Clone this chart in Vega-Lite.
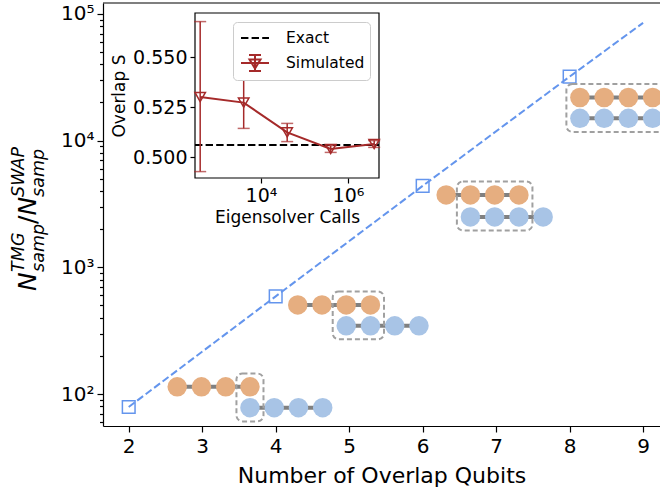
{
  "$schema": "https://vega.github.io/schema/vega-lite/v6.json",
  "width": 557,
  "height": 423,
  "autosize": {"type": "none"},
  "padding": {"left": 103, "top": 3, "right": 0, "bottom": 67},
  "background": "white",
  "config": {
    "font": "DejaVu Sans",
    "view": {"stroke": null},
    "axis": {"grid": false, "domainColor": "black", "tickColor": "black", "labelColor": "black", "titleColor": "black", "domainWidth": 1.2, "tickWidth": 1.2, "titleFontWeight": "normal", "labelFont": "DejaVu Sans", "titleFont": "DejaVu Sans", "labelOverlap": false}
  },
  "datasets": {
    "fit": [
      {"qubits": 2, "ratio": 79}, {"qubits": 4, "ratio": 590}, {"qubits": 6, "ratio": 4390}, {"qubits": 8, "ratio": 32000}, {"qubits": 9, "ratio": 85000}
    ],
    "markers": [
      {"qubits": 2, "ratio": 79}, {"qubits": 4, "ratio": 590}, {"qubits": 6, "ratio": 4390}, {"qubits": 8, "ratio": 32000}
    ],
    "qubits": [
      {"row": "1A", "register": "A", "x": 2.66, "y": 114}, {"row": "1A", "register": "A", "x": 2.99, "y": 114}, {"row": "1A", "register": "A", "x": 3.32, "y": 114}, {"row": "1A", "register": "A", "x": 3.65, "y": 114},
      {"row": "1B", "register": "B", "x": 3.65, "y": 78}, {"row": "1B", "register": "B", "x": 3.98, "y": 78}, {"row": "1B", "register": "B", "x": 4.31, "y": 78}, {"row": "1B", "register": "B", "x": 4.64, "y": 78},
      {"row": "2A", "register": "A", "x": 4.30, "y": 505}, {"row": "2A", "register": "A", "x": 4.63, "y": 505}, {"row": "2A", "register": "A", "x": 4.96, "y": 505}, {"row": "2A", "register": "A", "x": 5.29, "y": 505},
      {"row": "2B", "register": "B", "x": 4.96, "y": 345}, {"row": "2B", "register": "B", "x": 5.29, "y": 345}, {"row": "2B", "register": "B", "x": 5.62, "y": 345}, {"row": "2B", "register": "B", "x": 5.95, "y": 345},
      {"row": "3A", "register": "A", "x": 6.32, "y": 3730}, {"row": "3A", "register": "A", "x": 6.65, "y": 3730}, {"row": "3A", "register": "A", "x": 6.98, "y": 3730}, {"row": "3A", "register": "A", "x": 7.31, "y": 3730},
      {"row": "3B", "register": "B", "x": 6.65, "y": 2500}, {"row": "3B", "register": "B", "x": 6.98, "y": 2500}, {"row": "3B", "register": "B", "x": 7.31, "y": 2500}, {"row": "3B", "register": "B", "x": 7.64, "y": 2500},
      {"row": "4A", "register": "A", "x": 8.14, "y": 21900}, {"row": "4A", "register": "A", "x": 8.47, "y": 21900}, {"row": "4A", "register": "A", "x": 8.80, "y": 21900}, {"row": "4A", "register": "A", "x": 9.13, "y": 21900},
      {"row": "4B", "register": "B", "x": 8.14, "y": 15000}, {"row": "4B", "register": "B", "x": 8.47, "y": 15000}, {"row": "4B", "register": "B", "x": 8.80, "y": 15000}, {"row": "4B", "register": "B", "x": 9.13, "y": 15000}
    ],
    "boxes": [
      {"x0": 3.466, "x1": 3.834, "y0": 60.8, "y1": 145},
      {"x0": 4.776, "x1": 5.474, "y0": 270, "y1": 645},
      {"x0": 6.466, "x1": 7.494, "y0": 1955, "y1": 4764},
      {"x0": 7.956, "x1": 9.314, "y0": 11720, "y1": 28030}
    ],
    "sim": [
      {"calls": 400, "S": 0.530, "lo": 0.4927, "hi": 0.5677},
      {"calls": 4000, "S": 0.5272, "lo": 0.5143, "hi": 0.5398},
      {"calls": 40000, "S": 0.5123, "lo": 0.5077, "hi": 0.5168},
      {"calls": 400000, "S": 0.5040, "lo": 0.5023, "hi": 0.5057},
      {"calls": 4000000, "S": 0.5065, "lo": 0.5048, "hi": 0.5082}
    ]
  },
  "layer": [
    {
      "layer": [
        {
          "data": {"name": "fit"},
          "mark": {"type": "line", "color": "#6495ED", "strokeWidth": 2, "strokeDash": [7.4, 3.2], "clip": true},
          "encoding": {
            "x": {"field": "qubits", "type": "quantitative", "scale": {"domain": [1.65, 9.23], "nice": false, "zero": false},
              "axis": {"values": [2, 3, 4, 5, 6, 7, 8, 9], "format": "d", "labelFontSize": 20, "tickSize": 6, "labelPadding": 4, "title": "Number of Overlap Qubits", "titleFontSize": 22, "titlePadding": 9}},
            "y": {"field": "ratio", "type": "quantitative", "scale": {"type": "log", "domain": [55.9, 122000], "nice": false},
              "axis": {"values": [60, 70, 80, 90, 100, 200, 300, 400, 500, 600, 700, 800, 900, 1000, 2000, 3000, 4000, 5000, 6000, 7000, 8000, 9000, 10000, 20000, 30000, 40000, 50000, 60000, 70000, 80000, 90000, 100000],
                "labelExpr": "datum.value==100?'10²':datum.value==1000?'10³':datum.value==10000?'10⁴':datum.value==100000?'10⁵':''",
                "tickSize": {"condition": {"test": "datum.value==100||datum.value==1000||datum.value==10000||datum.value==100000", "value": 6}, "value": 3.5},
                "labelFontSize": 20, "labelPadding": 3, "title": null}}
          }
        },
        {
          "data": {"name": "markers"},
          "mark": {"type": "point", "shape": "square", "filled": false, "size": 160, "strokeWidth": 1.5, "color": "#6495ED", "opacity": 1},
          "encoding": {"x": {"field": "qubits", "type": "quantitative"}, "y": {"field": "ratio", "type": "quantitative"}}
        },
        {
          "data": {"name": "qubits"},
          "mark": {"type": "line", "color": "#808080", "strokeWidth": 4, "clip": true},
          "encoding": {"x": {"field": "x", "type": "quantitative"}, "y": {"field": "y", "type": "quantitative"}, "detail": {"field": "row"}, "order": {"field": "x"}}
        },
        {
          "data": {"name": "qubits"},
          "mark": {"type": "circle", "size": 380, "opacity": 1, "clip": true},
          "encoding": {"x": {"field": "x", "type": "quantitative"}, "y": {"field": "y", "type": "quantitative"},
            "color": {"field": "register", "type": "nominal", "scale": {"domain": ["A", "B"], "range": ["#E6AE80", "#A8C4E6"]}, "legend": null}}
        },
        {
          "data": {"name": "boxes"},
          "mark": {"type": "rect", "fill": null, "stroke": "#A0A0A0", "strokeWidth": 2, "strokeDash": [5, 3], "cornerRadius": 6, "clip": true},
          "encoding": {"x": {"field": "x0", "type": "quantitative"}, "x2": {"field": "x1"}, "y": {"field": "y0", "type": "quantitative"}, "y2": {"field": "y1"}}
        },
        {
          "data": {"values": [{"edge": "top"}]},
          "mark": {"type": "rule", "color": "black", "strokeWidth": 1.2},
          "encoding": {"y": {"datum": 122000}}
        },
        {
          "data": {"values": [{"t": "N"}]},
          "mark": {"type": "text", "angle": 270, "align": "left", "baseline": "alphabetic", "fontSize": 25, "fontStyle": "italic", "font": "DejaVu Sans"},
          "encoding": {"text": {"field": "t"}, "x": {"datum": 0.738}, "y": {"datum": 651}}
        },
        {
          "data": {"values": [{"t": "samp"}]},
          "mark": {"type": "text", "angle": 270, "align": "left", "baseline": "alphabetic", "fontSize": 17.5, "fontStyle": "italic", "font": "DejaVu Sans"},
          "encoding": {"text": {"field": "t"}, "x": {"datum": 0.847}, "y": {"datum": 920}}
        },
        {
          "data": {"values": [{"t": "TMG"}]},
          "mark": {"type": "text", "angle": 270, "align": "left", "baseline": "alphabetic", "fontSize": 17.5, "fontStyle": "italic", "font": "DejaVu Sans"},
          "encoding": {"text": {"field": "t"}, "x": {"datum": 0.575}, "y": {"datum": 920}}
        },
        {
          "data": {"values": [{"t": "/"}]},
          "mark": {"type": "text", "angle": 270, "align": "left", "baseline": "alphabetic", "fontSize": 25, "font": "DejaVu Sans"},
          "encoding": {"text": {"field": "t"}, "x": {"datum": 0.738}, "y": {"datum": 2200}}
        },
        {
          "data": {"values": [{"t": "N"}]},
          "mark": {"type": "text", "angle": 270, "align": "left", "baseline": "alphabetic", "fontSize": 25, "fontStyle": "italic", "font": "DejaVu Sans"},
          "encoding": {"text": {"field": "t"}, "x": {"datum": 0.738}, "y": {"datum": 2563}}
        },
        {
          "data": {"values": [{"t": "samp"}]},
          "mark": {"type": "text", "angle": 270, "align": "left", "baseline": "alphabetic", "fontSize": 17.5, "fontStyle": "italic", "font": "DejaVu Sans"},
          "encoding": {"text": {"field": "t"}, "x": {"datum": 0.847}, "y": {"datum": 3593}}
        },
        {
          "data": {"values": [{"t": "SWAP"}]},
          "mark": {"type": "text", "angle": 270, "align": "left", "baseline": "alphabetic", "fontSize": 17.5, "fontStyle": "italic", "font": "DejaVu Sans"},
          "encoding": {"text": {"field": "t"}, "x": {"datum": 0.575}, "y": {"datum": 3593}}
        }
      ]
    },
    {
      "layer": [
        {
          "data": {"values": [{"frame": "inset"}]},
          "mark": {"type": "rect", "fill": "white", "stroke": "black", "strokeWidth": 1.2},
          "encoding": {
            "x": {"datum": 304, "type": "quantitative", "scale": {"type": "log", "domain": [304, 5160000], "range": [92, 276], "nice": false},
              "axis": {"orient": "bottom", "offset": -248, "values": [10000, 1000000], "labelExpr": "datum.value==10000?'10⁴':'10⁶'", "domain": false, "tickSize": 5, "labelFontSize": 19, "labelPadding": 3, "title": "Eigensolver Calls", "titleFontSize": 17, "titlePadding": 4}},
            "x2": {"datum": 5160000},
            "y": {"datum": 0.4895, "type": "quantitative", "scale": {"type": "linear", "domain": [0.4895, 0.572], "range": [175, 10], "nice": false, "zero": false},
              "axis": {"orient": "left", "offset": -92, "values": [0.5, 0.525, 0.55], "format": ".3f", "domain": false, "tickSize": 5, "labelFontSize": 19, "labelPadding": 3, "title": "Overlap S", "titleFontSize": 17, "titlePadding": 4}},
            "y2": {"datum": 0.572}
          }
        },
        {
          "data": {"values": [{"series": "Exact"}]},
          "mark": {"type": "rule", "color": "black", "strokeWidth": 2, "strokeDash": [7.4, 3.2]},
          "encoding": {"x": {"datum": 304}, "x2": {"datum": 5160000}, "y": {"datum": 0.506}}
        },
        {
          "data": {"name": "sim"},
          "mark": {"type": "rule", "color": "#A52A2A", "strokeWidth": 1.5},
          "encoding": {"x": {"field": "calls", "type": "quantitative"}, "y": {"field": "lo", "type": "quantitative"}, "y2": {"field": "hi"}}
        },
        {
          "data": {"name": "sim"},
          "mark": {"type": "tick", "orient": "horizontal", "color": "#A52A2A", "thickness": 1.5, "size": 12},
          "encoding": {"x": {"field": "calls", "type": "quantitative"}, "y": {"field": "lo", "type": "quantitative"}}
        },
        {
          "data": {"name": "sim"},
          "mark": {"type": "tick", "orient": "horizontal", "color": "#A52A2A", "thickness": 1.5, "size": 12},
          "encoding": {"x": {"field": "calls", "type": "quantitative"}, "y": {"field": "hi", "type": "quantitative"}}
        },
        {
          "data": {"name": "sim"},
          "mark": {"type": "line", "color": "#A52A2A", "strokeWidth": 2},
          "encoding": {"x": {"field": "calls", "type": "quantitative"}, "y": {"field": "S", "type": "quantitative"}}
        },
        {
          "data": {"name": "sim"},
          "mark": {"type": "point", "shape": "triangle-down", "filled": false, "size": 110, "strokeWidth": 1.5, "color": "#A52A2A", "opacity": 1},
          "encoding": {"x": {"field": "calls", "type": "quantitative"}, "y": {"field": "S", "type": "quantitative"}}
        },
        {
          "data": {"values": [{"series": "Exact"}, {"series": "Simulated"}]},
          "mark": {"type": "point", "filled": false, "clip": true, "strokeWidth": 2, "opacity": 1},
          "encoding": {
            "x": {"datum": 1},
            "y": {"datum": 0.3},
            "color": {"field": "series", "type": "nominal", "scale": {"domain": ["Exact", "Simulated"], "range": ["black", "#A52A2A"]},
              "legend": {"title": null, "orient": "none", "legendX": 130, "legendY": 19, "fillColor": "white", "strokeColor": "#cccccc", "cornerRadius": 4, "padding": 5, "labelFontSize": 15.5, "labelFont": "DejaVu Sans", "labelColor": "black", "symbolSize": 400, "symbolStrokeWidth": 2, "symbolFillColor": "transparent", "symbolOpacity": 1, "labelOffset": 26, "rowPadding": 4}},
            "shape": {"field": "series", "type": "nominal", "scale": {"domain": ["Exact", "Simulated"], "range": ["M-0.8,0H-0.06M0.26,0H1M1.32,0H2", "M-0.8,0H2M0.6,-0.8V0.8M0,-0.8H1.2M0,0.8H1.2M0.05,-0.35L1.15,-0.35L0.6,0.55Z"]},
              "legend": {"title": null, "orient": "none", "legendX": 130, "legendY": 19, "fillColor": "white", "strokeColor": "#cccccc", "cornerRadius": 4, "padding": 5, "labelFontSize": 15.5, "labelFont": "DejaVu Sans", "labelColor": "black", "symbolSize": 400, "symbolStrokeWidth": 2, "symbolFillColor": "transparent", "symbolOpacity": 1, "labelOffset": 26, "rowPadding": 4}}
          }
        }
      ]
    }
  ],
  "resolve": {
    "scale": {"x": "independent", "y": "independent", "color": "independent", "shape": "independent"},
    "axis": {"x": "independent", "y": "independent"},
    "legend": {"color": "independent", "shape": "independent"}
  }
}
